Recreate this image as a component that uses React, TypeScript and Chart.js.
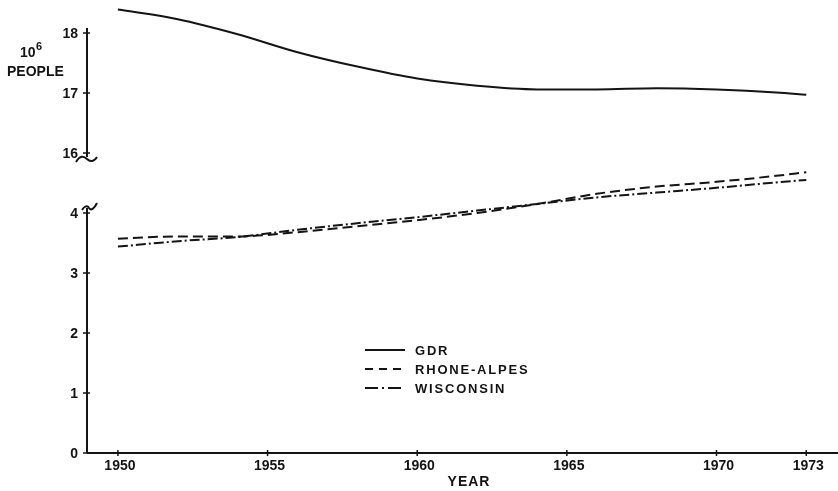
import React, { useEffect, useRef } from "react";
import { Chart, registerables } from "chart.js";

Chart.register(...registerables);

// Population in millions, read at selected years
const gdrYears = [1950, 1952, 1954, 1956, 1958, 1960, 1962, 1964, 1966, 1968, 1970, 1972, 1973];
const gdrValues = [18.39, 18.23, 17.98, 17.68, 17.44, 17.24, 17.12, 17.06, 17.06, 17.08, 17.06, 17.01, 16.97];

const rhoneYears = [1950, 1952, 1954, 1956, 1958, 1960, 1962, 1964, 1966, 1968, 1970, 1972, 1973];
const rhoneValues = [3.57, 3.61, 3.61, 3.68, 3.78, 3.88, 4.0, 4.15, 4.32, 4.44, 4.52, 4.62, 4.68];

const wiscYears = [1950, 1952, 1954, 1956, 1958, 1960, 1962, 1964, 1966, 1968, 1970, 1972, 1973];
const wiscValues = [3.44, 3.53, 3.6, 3.72, 3.83, 3.93, 4.04, 4.15, 4.26, 4.34, 4.42, 4.51, 4.55];

const xTickValues = [1950, 1955, 1960, 1965, 1970, 1973];
const xTickLabels = ["1950", "1955", "1960", "1965", "1970", "1973"];
const lowTickValues = [0, 1, 2, 3, 4];
const highTickValues = [16, 17, 18];

const seriesLabels = ["GDR", "RHONE-ALPES", "WISCONSIN"];

const INK = "#141414";
const FONT = "'Liberation Sans', Arial, sans-serif";

const toPoints = (xs: number[], ys: number[]) => xs.map((x, i) => ({ x, y: ys[i] }));

const brokenAxisPlugin = {
  id: "brokenAxis",
  afterDraw(chart: any) {
    const { ctx, chartArea, scales } = chart;
    const xs = scales.x;
    const yLow = scales.y;
    const yHigh = scales.yHigh;
    const ax = chartArea.left - 1;
    const base = yLow.getPixelForValue(0);

    ctx.save();
    ctx.strokeStyle = INK;
    ctx.fillStyle = INK;
    ctx.lineWidth = 2;
    ctx.setLineDash([]);

    // upper axis segment (16..18) with its break mark
    const hiTop = yHigh.getPixelForValue(18) - 5;
    const hiBot = yHigh.getPixelForValue(16) + 4;
    ctx.beginPath();
    ctx.moveTo(ax, hiTop);
    ctx.lineTo(ax, hiBot);
    ctx.stroke();
    ctx.beginPath();
    ctx.moveTo(ax - 11, hiBot + 5);
    ctx.bezierCurveTo(ax - 7, hiBot - 2, ax - 3, hiBot - 1, ax, hiBot + 2);
    ctx.bezierCurveTo(ax + 3, hiBot + 5, ax + 7, hiBot + 5, ax + 10, hiBot);
    ctx.stroke();

    // lower axis segment (0..4) with its break mark
    const loTop = yLow.getPixelForValue(4) - 5;
    ctx.beginPath();
    ctx.moveTo(ax, loTop);
    ctx.lineTo(ax, base);
    ctx.stroke();
    ctx.beginPath();
    ctx.moveTo(ax - 5, loTop + 2);
    ctx.bezierCurveTo(ax - 2, loTop - 3, ax + 1, loTop - 2, ax + 2, loTop);
    ctx.bezierCurveTo(ax + 4, loTop + 3, ax + 7, loTop + 1, ax + 10, loTop - 5);
    ctx.stroke();

    // x axis line
    ctx.beginPath();
    ctx.moveTo(ax, base);
    ctx.lineTo(chartArea.right, base);
    ctx.stroke();

    // y ticks and labels
    ctx.font = `bold 14px ${FONT}`;
    ctx.textAlign = "right";
    ctx.textBaseline = "middle";
    ctx.lineWidth = 1.5;
    const drawYTick = (py: number, label: string) => {
      ctx.beginPath();
      ctx.moveTo(ax - 4, py);
      ctx.lineTo(ax + 3, py);
      ctx.stroke();
      ctx.fillText(label, ax - 9, py + 1);
    };
    lowTickValues.forEach((v) => drawYTick(yLow.getPixelForValue(v), String(v)));
    highTickValues.forEach((v) => drawYTick(yHigh.getPixelForValue(v), String(v)));

    // x ticks and labels
    ctx.textAlign = "center";
    ctx.textBaseline = "middle";
    xTickValues.forEach((v, i) => {
      const px = xs.getPixelForValue(v);
      ctx.beginPath();
      ctx.moveTo(px, base - 3);
      ctx.lineTo(px, base + 3);
      ctx.stroke();
      ctx.fillText(xTickLabels[i], px + 2, base + 13);
    });

    // axis titles
    (ctx as any).letterSpacing = "1px";
    ctx.fillText("YEAR", 469, base + 29);
    ctx.textAlign = "left";
    (ctx as any).letterSpacing = "0px";
    ctx.fillText("PEOPLE", 7, 72);
    ctx.fillText("10", 20, 53);
    ctx.font = `bold 11px ${FONT}`;
    ctx.fillText("6", 36, 47);

    // legend
    ctx.font = `bold 13px ${FONT}`;
    (ctx as any).letterSpacing = "1.8px";
    ctx.textBaseline = "middle";
    const legendRows = [350, 369, 388];
    chart.data.datasets.forEach((ds: any, i: number) => {
      const ly = legendRows[i];
      ctx.lineWidth = 2;
      ctx.setLineDash(i === 0 ? [] : i === 1 ? [8, 6] : [13, 4, 2, 4]);
      ctx.beginPath();
      ctx.moveTo(365, ly);
      ctx.lineTo(405, ly);
      ctx.stroke();
      ctx.setLineDash([]);
      ctx.fillText(ds.label, 415, ly + 1);
    });
    ctx.restore();
  },
};

export default function App() {
  const canvasRef = useRef<HTMLCanvasElement | null>(null);

  useEffect(() => {
    const canvas = canvasRef.current;
    if (!canvas) return;
    const common = {
      borderColor: INK,
      borderWidth: 2,
      pointRadius: 0,
      fill: false,
      cubicInterpolationMode: "monotone" as const,
    };
    const chart = new Chart(canvas, {
      type: "line",
      data: {
        datasets: [
          { ...common, label: seriesLabels[0], data: toPoints(gdrYears, gdrValues), yAxisID: "yHigh" },
          { ...common, label: seriesLabels[1], data: toPoints(rhoneYears, rhoneValues), yAxisID: "y", borderDash: [10, 5] },
          { ...common, label: seriesLabels[2], data: toPoints(wiscYears, wiscValues), yAxisID: "y", borderDash: [10, 3, 2, 3] },
        ],
      },
      options: {
        responsive: false,
        animation: false,
        devicePixelRatio: 1,
        layout: { padding: { left: 88, right: 0, top: 3, bottom: 38 } },
        plugins: { legend: { display: false }, tooltip: { enabled: false } },
        scales: {
          x: { type: "linear", min: 1949, max: 1974.06, display: false },
          y: { type: "linear", min: 0, max: 7.5, display: false },
          yHigh: { type: "linear", min: 11, max: 18.5, display: false },
        },
      },
      plugins: [brokenAxisPlugin],
    });
    return () => chart.destroy();
  }, []);

  return (
    <div style={{ position: "absolute", left: 0, top: 0, width: 838, height: 491, background: "#fff" }}>
      <canvas ref={canvasRef} width={838} height={491} />
    </div>
  );
}
